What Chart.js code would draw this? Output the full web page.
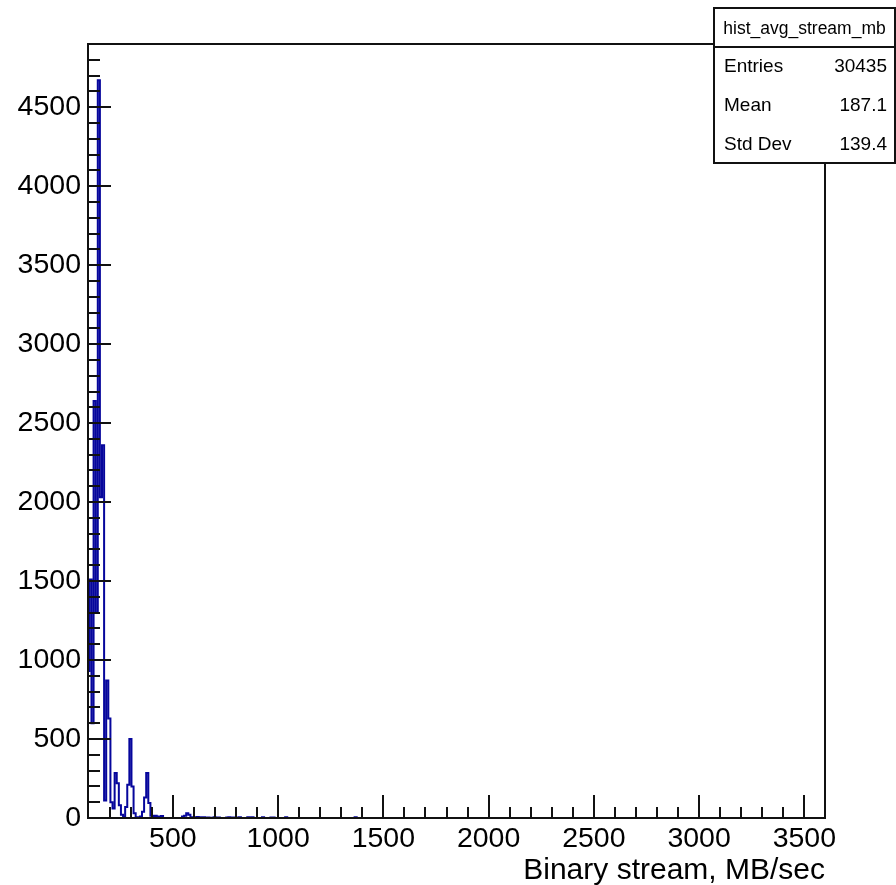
<!DOCTYPE html>
<html>
<head>
<meta charset="utf-8">
<title>hist_avg_stream_mb</title>
<script src="https://cdn.jsdelivr.net/npm/chart.js@4.4.1/dist/chart.umd.min.js"></script>
<style>
  html, body { margin: 0; padding: 0; background: #fff; }
  canvas { display: block; }
</style>
</head>
<body>
<canvas id="hist" width="896" height="885"></canvas>
<script>
// binning of hist_avg_stream_mb (MB/sec)
const binStart = 93.5;
const binWidth = 10;
const binCount = 350;

// counts of the first bins
const headCounts = [930, 1510, 600, 2640, 1300, 4670, 2030, 2360, 110, 870,
                    630, 100, 60, 285, 220, 80, 20, 8, 70, 210,
                    500, 200, 30, 5, 3, 10, 40, 130, 285, 95,
                    15, 12, 15, 10, 8, 13];
// sparse tail: bin index and its count
const tailBins   = [45, 46, 47, 48, 49, 50, 51, 52, 53, 54, 55, 57, 58, 60, 62, 66, 67, 69, 70, 72, 76, 77, 78, 83, 87, 88, 94, 127];
const tailCounts = [10, 15, 30, 20, 5, 5, 4, 6, 3, 5, 4, 3, 2, 4, 3, 3, 4, 3, 3, 4, 4, 3, 4, 4, 3, 3, 4, 4];

const xTicks = [500, 1000, 1500, 2000, 2500, 3000, 3500];
const yTicks = [0, 500, 1000, 1500, 2000, 2500, 3000, 3500, 4000, 4500];

const statsTitle = 'hist_avg_stream_mb';
const statsLabels = ['Entries', 'Mean', 'Std Dev'];
const statsValues = ['30435', '187.1', '139.4'];

const FONT = "'Liberation Sans', Arial, Helvetica, sans-serif";
const LINE_BLUE = '#06069c';
const INK = '#111';

const counts = new Array(binCount).fill(0);
headCounts.forEach((c, i) => { counts[i] = c; });
tailBins.forEach((b, i) => { counts[b] = tailCounts[i]; });

const points = counts.map((c, i) => ({ x: binStart + i * binWidth, y: c }));
points.push({ x: binStart + binCount * binWidth, y: 0 });

// ROOT-style frame: inward ticks, box around the pad, stats box
const rootFrame = {
    id: 'rootFrame',
    afterDatasetsDraw(chart) {
        const { ctx, chartArea: a, scales: { x, y } } = chart;
        ctx.save();
        ctx.strokeStyle = INK;
        ctx.lineWidth = 2;
        ctx.beginPath();
        for (let v = 100; v <= x.max; v += 100) {
            const px = Math.round(x.getPixelForValue(v));
            if (px <= a.left + 1 || px >= a.right - 1) continue;
            const len = v % 500 === 0 ? 23 : 11;
            ctx.moveTo(px, a.bottom);
            ctx.lineTo(px, a.bottom - len);
        }
        for (let v = 100; v <= y.max; v += 100) {
            const py = Math.round(y.getPixelForValue(v));
            const len = v % 500 === 0 ? 23 : 12;
            ctx.moveTo(a.left, py);
            ctx.lineTo(a.left + len, py);
        }
        ctx.stroke();
        ctx.strokeRect(a.left, a.top, a.right - a.left, a.bottom - a.top);
        ctx.restore();
    },
    afterDraw(chart) {
        const ctx = chart.ctx;
        const bx = 714, by = 8, bw = 181, bh = 155;
        ctx.save();
        ctx.fillStyle = '#fff';
        ctx.fillRect(bx, by, bw, bh);
        ctx.strokeStyle = INK;
        ctx.lineWidth = 2;
        ctx.strokeRect(bx, by, bw, bh);
        ctx.beginPath();
        ctx.moveTo(bx, 47);
        ctx.lineTo(bx + bw, 47);
        ctx.stroke();

        ctx.fillStyle = '#000';
        ctx.textBaseline = 'middle';
        ctx.font = `17.5px ${FONT}`;
        ctx.textAlign = 'center';
        ctx.fillText(statsTitle, bx + bw / 2, 29);

        ctx.font = `19px ${FONT}`;
        statsLabels.forEach((lab, i) => {
            const ty = 67 + i * 39;
            ctx.textAlign = 'left';
            ctx.fillText(lab, bx + 10, ty);
            ctx.textAlign = 'right';
            ctx.fillText(statsValues[i], bx + bw - 8, ty);
        });
        ctx.restore();
    }
};

new Chart(document.getElementById('hist'), {
    type: 'line',
    data: {
        datasets: [{
            label: statsTitle,
            data: points,
            stepped: true,
            borderColor: LINE_BLUE,
            borderWidth: 2,
            pointRadius: 0,
            fill: false,
            clip: 0
        }]
    },
    options: {
        responsive: false,
        animation: false,
        events: [],
        layout: { padding: { top: 44, right: 71, left: 0, bottom: 0 } },
        plugins: {
            legend: { display: false },
            tooltip: { enabled: false }
        },
        scales: {
            x: {
                type: 'linear',
                min: 97,
                max: 3598,
                grid: { display: false },
                border: { display: false },
                afterBuildTicks: s => { s.ticks = xTicks.map(v => ({ value: v })); },
                afterFit: s => { s.height = 67; },
                ticks: {
                    color: '#000',
                    font: { family: FONT, size: 28.5 },
                    padding: -4,
                    maxRotation: 0,
                    autoSkip: false,
                    callback: v => String(v)
                },
                title: {
                    display: true,
                    text: 'Binary stream, MB/sec',
                    align: 'end',
                    color: '#000',
                    font: { family: FONT, size: 30 },
                    padding: { top: 0, bottom: -4 }
                }
            },
            y: {
                type: 'linear',
                min: 0,
                max: 4900,
                grid: { display: false },
                border: { display: false },
                afterBuildTicks: s => { s.ticks = yTicks.map(v => ({ value: v })); },
                afterFit: s => { s.width = 88; },
                ticks: {
                    color: '#000',
                    font: { family: FONT, size: 28.5 },
                    padding: -1,
                    autoSkip: false,
                    callback: v => String(v)
                }
            }
        }
    },
    plugins: [rootFrame]
});
</script>
</body>
</html>
